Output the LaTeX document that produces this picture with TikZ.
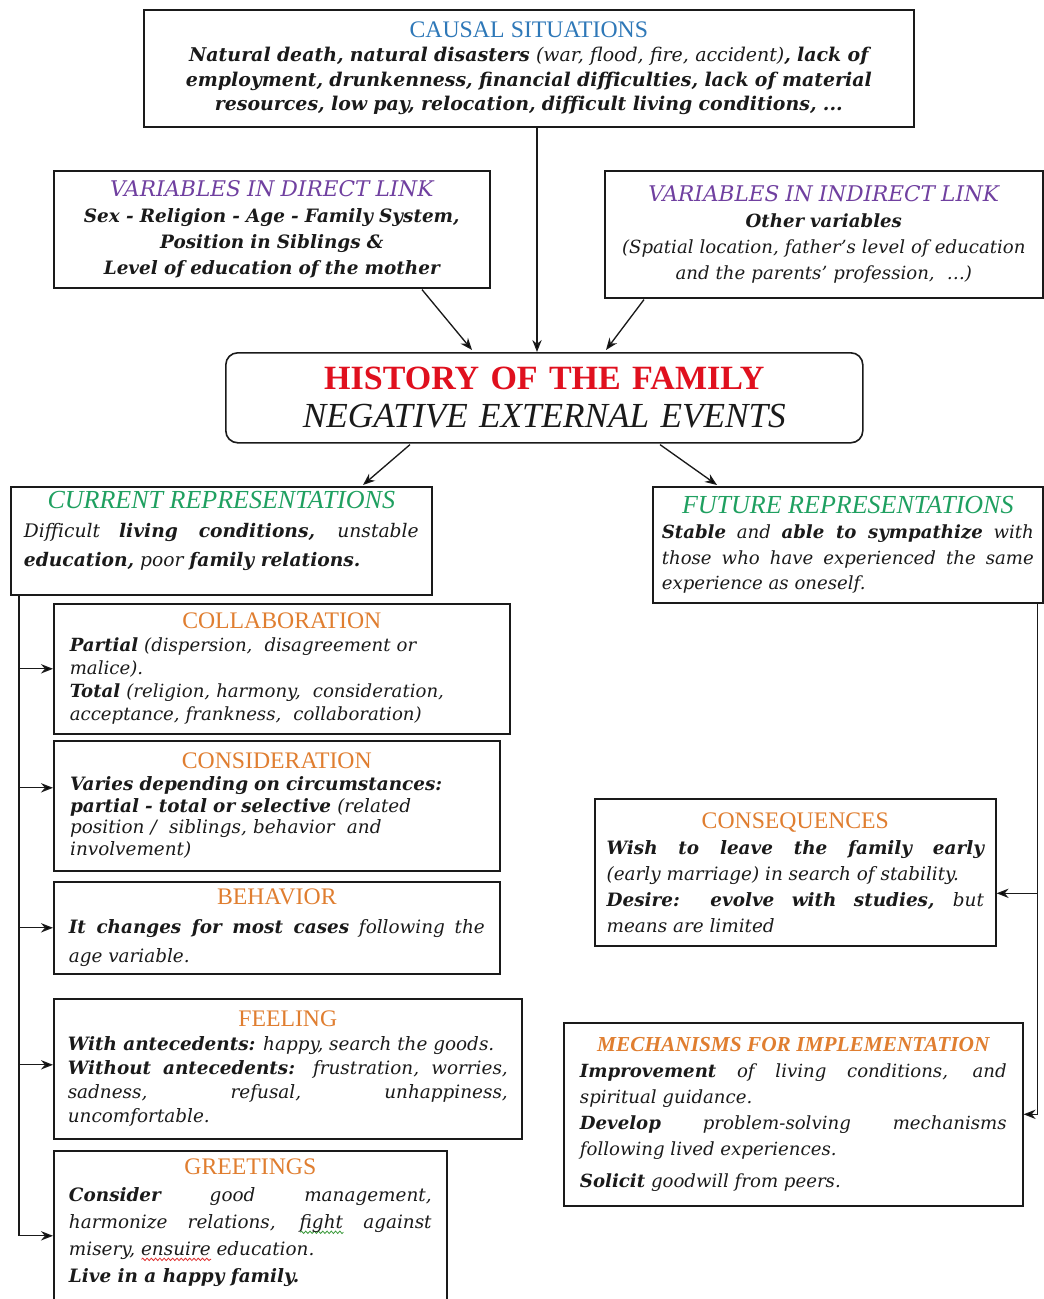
\documentclass[tikz,border=0pt]{standalone}
\usepackage{fontspec}
\setmainfont{DejaVu Serif}
\newfontfamily\tf{Liberation Serif}
\usetikzlibrary{arrows.meta,calc,decorations.pathmorphing}
\definecolor{cblue}{HTML}{2E78B8}
\definecolor{cpurple}{HTML}{7040A0}
\definecolor{cred}{HTML}{E0101E}
\definecolor{cgreen}{HTML}{1FA060}
\definecolor{corange}{HTML}{E07E30}
\definecolor{ink}{HTML}{1A1A1A}
\definecolor{sqgreen}{HTML}{3A9A3A}
\definecolor{sqred}{HTML}{E03030}
\newcommand{\kw}[1]{{\bfseries #1}}
\newcommand{\ttl}[2]{\hbox to\hsize{\hss\color{#1}#2\hss}\par}
\newcommand{\tsz}{\fontsize{17.8}{20}\selectfont}
\newcommand{\gsz}{\fontsize{19.5}{21}\selectfont}
\newcommand{\psz}{\fontsize{16.2}{18}\selectfont}
\newlength{\sqw}
\newcommand{\squig}[2]{\settowidth{\sqw}{#2}\rlap{\tikz[baseline=0pt]{\draw[#1, line width=0.6pt, decorate, decoration={snake, amplitude=0.9pt, segment length=3.2pt}] (0pt,-3pt) -- (\sqw,-3pt);}}#2}
\tolerance=10000
\hyphenpenalty=10000
\exhyphenpenalty=10000
\begin{document}
\begin{tikzpicture}[x=0.75pt,y=-0.75pt,
  box/.style={draw=ink, line width=1.2pt, rectangle, anchor=north west, inner xsep=0pt, inner ysep=0pt, text=ink},
  arr/.style={-{Stealth[length=9pt,width=7pt]}, line width=1pt, draw=ink},
  lnk/.style={line width=1pt, draw=ink}]
\useasboundingbox (0,0) rectangle (1044,1299);
\fill[white] (0,0) rectangle (1044,1299);
\clip (0,0) rectangle (1044,1299);

% top row
\node[box, minimum width=577.5pt, minimum height=87.75pt, text width=557pt, align=center,
  font=\fontsize{14.2}{18.4}\selectfont] (causal) at (143,9)
 {\ttl{cblue}{\tf\tsz CAUSAL SITUATIONS}\itshape\bfseries Natural death, natural disasters {\mdseries(war, flood, fire, accident)}, lack of\\ employment, drunkenness, financial difficulties, lack of material\\ resources, low pay, relocation, difficult living conditions, ...};

\node[box, minimum width=327pt, minimum height=87.75pt, text width=312pt, align=center,
  font=\fontsize{13.8}{19.5}\selectfont] (direct) at (53,170)
 {\ttl{cpurple}{\itshape\psz VARIABLES IN DIRECT LINK}\itshape\bfseries Sex - Religion - Age - Family System,\\ Position in Siblings \&\\ Level of education of the mother};

\node[box, minimum width=328.5pt, minimum height=95.25pt, text width=320pt, align=center,
  font=\fontsize{13.6}{19.5}\selectfont] (indirect) at (604,170)
 {\ttl{cpurple}{\itshape\psz VARIABLES IN INDIRECT LINK}\itshape\kw{Other variables}\\ (Spatial location, father's level of education\\ and the parents' profession, \ \ldots)};

% center
\node[box, rounded corners=9pt, minimum width=477.75pt, minimum height=67.5pt, text width=470pt, align=center,
  font=\fontsize{25.5}{28.5}\selectfont] (hist) at (225,352)
 {{\tf\bfseries\color{cred}HISTORY OF THE FAMILY}\\ {\tf\itshape\fontsize{26.4}{28.5}\selectfont NEGATIVE EXTERNAL EVENTS}};

% representations
\node[box, minimum width=315.75pt, minimum height=81pt, text width=296pt, align=justify,
  font=\fontsize{14}{21.5}\selectfont] (current) at (10,486)
 {\ttl{cgreen}{\tf\itshape\gsz CURRENT REPRESENTATIONS}\itshape Difficult \kw{living conditions,} unstable\linebreak \kw{education,} poor \kw{family relations.}\par\vspace{15pt}};

\node[box, minimum width=292.5pt, minimum height=87pt, text width=279pt, align=justify,
  font=\fontsize{13.6}{19}\selectfont] (future) at (652,486)
 {\ttl{cgreen}{\tf\itshape\gsz FUTURE REPRESENTATIONS}\itshape\kw{Stable} and \kw{able to sympathize} with\linebreak those who have experienced the same\linebreak experience as oneself.};

% left column
\node[box, minimum width=342pt, minimum height=97.5pt, text width=318pt, align=left,
  font=\fontsize{13.6}{17.3}\selectfont] (collab) at (53,603)
 {\ttl{corange}{\tf\tsz COLLABORATION}\itshape\kw{Partial} (dispersion, \ disagreement or\\ malice).\\ \kw{Total} (religion, harmony, \ consideration,\\ acceptance, frankness, \ collaboration)};

\node[box, minimum width=334.5pt, minimum height=97.5pt, text width=310pt, align=left,
  font=\fontsize{13.8}{16.3}\selectfont] (consid) at (53,740)
 {\ttl{corange}{\tf\tsz CONSIDERATION}\itshape\kw{Varies depending on circumstances:}\\ \kw{partial - total or selective} (related\\ position / \ siblings, behavior \ and\\ involvement)};

\node[box, minimum width=334.5pt, minimum height=69pt, text width=312pt, align=justify,
  font=\fontsize{13.8}{21.5}\selectfont] (behav) at (53,881)
 {\ttl{corange}{\tf\tsz BEHAVIOR}\itshape\kw{It changes for most cases} following the\linebreak age variable.};

\node[box, minimum width=351pt, minimum height=105pt, text width=330pt, align=justify,
  font=\fontsize{13.8}{18}\selectfont] (feel) at (53,998)
 {\ttl{corange}{\tf\tsz FEELING}\itshape\kw{With antecedents:} happy, search the goods.\\ \kw{Without antecedents:} frustration, worries,\linebreak sadness, refusal, unhappiness,\linebreak uncomfortable.};

\node[box, minimum width=294.75pt, minimum height=127.5pt, text width=272pt, align=justify,
  font=\fontsize{13.8}{20.3}\selectfont] (greet) at (53,1150)
 {\ttl{corange}{\tf\tsz GREETINGS}\itshape\kw{Consider} good management,\linebreak harmonize relations, \squig{sqgreen}{fight} against\linebreak misery, \squig{sqred}{ensuire} education.\\ \kw{Live in a happy family.}\par\vspace{20pt}};

% right column
\node[box, minimum width=300.75pt, minimum height=110.25pt, text width=283pt, align=justify,
  font=\fontsize{13.8}{19.5}\selectfont] (conseq) at (594,798)
 {\ttl{corange}{\tf\tsz CONSEQUENCES}\itshape\kw{Wish to leave the family early}\linebreak (early marriage) in search of stability.\\ \kw{Desire: evolve with studies,} but\linebreak means are limited};

\node[box, minimum width=344.25pt, minimum height=137.25pt, text width=320pt, align=justify,
  font=\fontsize{13.6}{19.5}\selectfont] (mech) at (563,1022)
 {\ttl{corange}{\tf\bfseries\itshape\fontsize{16}{18}\selectfont MECHANISMS FOR IMPLEMENTATION}\itshape\kw{Improvement} of living conditions, and\linebreak spiritual guidance.\\ \kw{Develop} problem-solving mechanisms\linebreak following lived experiences.\\[5pt] \kw{Solicit} goodwill from peers.};

% connectors into history
\draw[arr] ($(causal.south west)+(394,0)$) -- ($(hist.north west)+(312,0)$);
\draw[arr] ($(direct.south west)+(369,1)$) -- ($(hist.north west)+(247,-2)$);
\draw[arr] ($(indirect.south west)+(40,1)$) -- ($(hist.north west)+(381,-2)$);
% history to representations
\draw[arr] ($(hist.south west)+(185,1)$) -- ($(current.north west)+(353,-1)$);
\draw[arr] ($(hist.south west)+(435,1)$) -- ($(future.north west)+(65,-1)$);

% left trunk
\coordinate (ltop) at ($(current.south west)+(9,0)$);
\coordinate (cw) at ($(consid.west)+(0,-18)$);
\coordinate (fw) at ($(feel.west)+(0,-4)$);
\draw[lnk] (ltop) -- (ltop |- greet.west);
\draw[arr] (ltop |- greet.west) -- (greet.west);
\draw[arr] (ltop |- collab.west) -- (collab.west);
\draw[arr] (ltop |- cw) -- (cw);
\draw[arr] (ltop |- behav.west) -- (behav.west);
\draw[arr] (ltop |- fw) -- (fw);

% right trunk
\coordinate (rtop) at ($(future.south east)+(-6,0)$);
\coordinate (ce) at ($(conseq.east)+(0,21)$);
\draw[lnk] (rtop) -- (rtop |- mech.east);
\draw[arr] (rtop |- mech.east) -- (mech.east);
\draw[arr] (rtop |- ce) -- (ce);
\end{tikzpicture}
\end{document}
